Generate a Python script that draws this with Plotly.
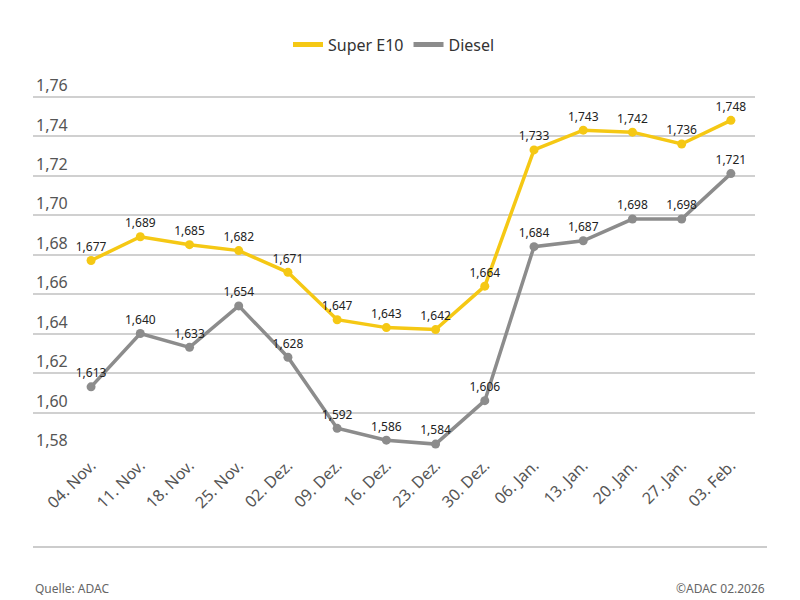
import plotly.graph_objects as go

dates = ["04. Nov.", "11. Nov.", "18. Nov.", "25. Nov.", "02. Dez.", "09. Dez.", "16. Dez.",
         "23. Dez.", "30. Dez.", "06. Jan.", "13. Jan.", "20. Jan.", "27. Jan.", "03. Feb."]
super_e10 = [1.677, 1.689, 1.685, 1.682, 1.671, 1.647, 1.643, 1.642, 1.664, 1.733, 1.743, 1.742, 1.736, 1.748]
diesel = [1.613, 1.640, 1.633, 1.654, 1.628, 1.592, 1.586, 1.584, 1.606, 1.684, 1.687, 1.698, 1.698, 1.721]
y_ticks = [1.58, 1.60, 1.62, 1.64, 1.66, 1.68, 1.70, 1.72, 1.74, 1.76]

YELLOW = "#F5C814"
GREY = "#8C8C8C"
FONT = "Noto Sans"

idx = list(range(len(dates)))

def fmt(v):
    return f"{v:.3f}".replace(".", ",")

fig = go.Figure()
for name, vals, col in [("Super E10", super_e10, YELLOW), ("Diesel", diesel, GREY)]:
    fig.add_trace(go.Scatter(
        x=idx, y=vals, name=name, mode="lines+markers+text",
        line=dict(color=col, width=3.5),
        marker=dict(color=col, size=9),
        text=[fmt(v) for v in vals], textposition="top center",
        textfont=dict(family=FONT, size=12, color="#222222"),
        cliponaxis=False, showlegend=False,
    ))
# legend entries (line only)
for name, col in [("Super E10", YELLOW), ("Diesel", GREY)]:
    fig.add_trace(go.Scatter(x=[None], y=[None], name=name, mode="lines",
                             line=dict(color=col, width=5), showlegend=True))

fig.update_layout(
    width=800, height=600,
    paper_bgcolor="white", plot_bgcolor="white",
    margin=dict(l=33, r=45, t=67, b=148, autoexpand=False),
    separators=",.",
    font=dict(family=FONT, color="#555555"),
    showlegend=True,
    legend=dict(orientation="h", x=0.5, xanchor="center", y=1.058, yanchor="middle",
                font=dict(family=FONT, size=16, color="#333333"),
                traceorder="normal"),
    xaxis=dict(
        range=[-1.18, 13.49], tickmode="array", tickvals=idx, ticktext=dates,
        tickangle=-45, tickfont=dict(family=FONT, size=16, color="#555555"),
        showgrid=False, zeroline=False, showline=False, ticks="", automargin=False,
    ),
    yaxis=dict(
        range=[1.58, 1.775], tickmode="array", tickvals=y_ticks, tickformat=".2f",
        ticklabelposition="inside top", tickfont=dict(family=FONT, size=16, color="#555555"),
        showgrid=True, gridcolor="#D0D0D0", gridwidth=1.5, zeroline=False, showline=False,
        ticks="", automargin=False,
    ),
)

fig.add_shape(type="line", xref="paper", yref="paper", x0=0, x1=1.0166, y0=-0.247, y1=-0.247,
              line=dict(color="#CCCCCC", width=2))
fig.add_annotation(text="Quelle: ADAC", xref="paper", yref="paper", x=0, y=-0.354,
                   xanchor="left", yanchor="middle", showarrow=False,
                   font=dict(family=FONT, size=12, color="#666666"))
fig.add_annotation(text="©ADAC 02.2026", xref="paper", yref="paper", x=1.0166, y=-0.354,
                   xanchor="right", yanchor="middle", showarrow=False,
                   font=dict(family=FONT, size=12, color="#666666"))

fig.write_html("out.html", config={"displayModeBar": False},
               post_script="document.body.style.margin='0';")
